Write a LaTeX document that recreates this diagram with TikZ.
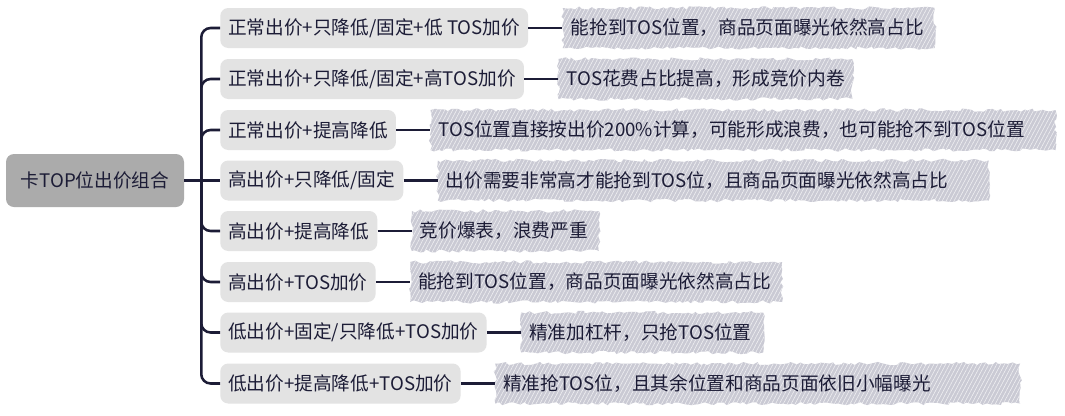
\documentclass[tikz,border=0pt]{standalone}
\usepackage{fontspec}
\newfontfamily\cjk{Noto Sans CJK SC}
\usepackage{xcolor}
\usepackage{tikz}
\usetikzlibrary{positioning, patterns.meta, decorations.pathmorphing}

\definecolor{inkblue}{HTML}{1C1C36}
\definecolor{rootgray}{HTML}{ABABAB}
\definecolor{childgray}{HTML}{E3E3E3}
\definecolor{hatchgray}{HTML}{CACAD4}

\begin{document}
\begin{tikzpicture}[x=0.75pt, y=-0.75pt,
  every node/.style={font=\cjk\fontsize{14}{16}\selectfont, text=inkblue},
  rootbox/.style={fill=rootgray, rounded corners=6pt, minimum width=133.5pt, minimum height=39.75pt, inner sep=0pt},
  childbox/.style={fill=childgray, rounded corners=6pt, minimum height=30pt, inner xsep=6pt, inner ysep=0pt, anchor=west},
  leafbox/.style={fill=hatchgray, minimum height=30pt, inner xsep=6pt, inner ysep=0pt, align=left,
    decorate, decoration={random steps, segment length=3pt, amplitude=1.3pt},
    postaction={pattern={Lines[angle=62, distance=2.6pt, line width=0.45pt]}, pattern color=white!70!hatchgray}},
  link/.style={draw=inkblue, line width=1.9pt, rounded corners=7pt}]
  % Page
  \useasboundingbox[fill=white] (0,0) rectangle (1065,415);
  % Root
  \node[rootbox] (root) at (95,180.5) {卡TOP位出价组合};
  % Combinations
  \foreach \n/\y/\txt in {
      1/28/{正常出价+只降低/固定+低 TOS加价\hspace{9pt}},
      2/79/{正常出价+只降低/固定+高TOS加价},
      3/130/{正常出价+提高降低},
      4/180.5/{高出价+只降低/固定},
      5/231/{高出价+提高降低},
      6/282/{高出价+TOS加价},
      7/332.5/{低出价+固定/只降低+TOS加价},
      8/383.5/{低出价+提高降低+TOS加价}}
    \node[childbox] (c\n) at (220,\y) {\txt};
  % Effects
  \foreach \n/\w/\txt in {
      1/267pt/{能抢到TOS位置，商品页面曝光依然高占比},
      2/208.5pt/{TOS花费占比提高，形成竞价内卷},
      3/456.75pt/{TOS位置直接按出价200\%计算，可能形成浪费，也可能抢不到TOS位置},
      4/401.25pt/{出价需要非常高才能抢到TOS位，且商品页面曝光依然高占比},
      5/128.25pt/{竞价爆表，浪费严重},
      6/267pt/{能抢到TOS位置，商品页面曝光依然高占比},
      7/169.5pt/{精准加杠杆，只抢TOS位置},
      8/381.75pt/{精准抢TOS位，且其余位置和商品页面依旧小幅曝光}}
    \node[leafbox, text width=\w, right=25.5pt of c\n] (l\n) {\txt};
  % Links
  \path (root.east) ++(17,0) coordinate (fork);
  \draw[link] (root.east) -- (c4.west);
  \draw[link] (c1.west) -| (fork) |- (c8.west);
  \foreach \n in {2,3,5,6,7}
    \draw[link] (fork) |- (c\n.west);
  \foreach \n in {1,...,8}
    \draw[link] (c\n.east) -- (l\n.west);
\end{tikzpicture}
\end{document}
